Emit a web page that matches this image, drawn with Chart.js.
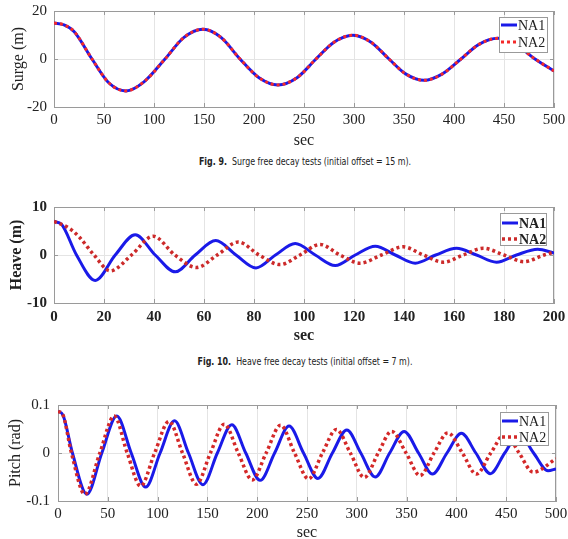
<!DOCTYPE html>
<html lang="en">
<head>
<meta charset="UTF-8">
<title>Free decay tests</title>
<script src="https://cdn.jsdelivr.net/npm/chart.js"></script>
<style>
    * { margin: 0; padding: 0; box-sizing: border-box; }
    body { width: 568px; height: 539px; background: #fff; position: relative; overflow: hidden; }
    .panel { position: absolute; left: 0; width: 568px; }
    .caption {
        position: absolute; left: 21px; width: 568px; text-align: center;
        font-family: 'Liberation Sans Narrow', 'DejaVu Sans Condensed', 'Liberation Sans', sans-serif;
        font-size: 10px; color: #222;
        transform: scaleX(0.88); transform-origin: center;
    }
</style>
</head>
<body>
    <div class="panel" style="top:0;height:150px"><canvas id="surgeChart" width="568" height="150"></canvas></div>
    <div class="caption" style="top:156px"><b>Fig. 9.</b>&nbsp; Surge free decay tests (initial offset = 15 m).</div>

    <div class="panel" style="top:195px;height:150px"><canvas id="heaveChart" width="568" height="150"></canvas></div>
    <div class="caption" style="top:356px"><b>Fig. 10.</b>&nbsp; Heave free decay tests (initial offset = 7 m).</div>

    <div class="panel" style="top:395px;height:144px"><canvas id="pitchChart" width="568" height="144"></canvas></div>

<script>
// Surge (both models overlap)
const surgeTime = [0, 10, 20, 38, 55, 72, 90, 111, 130, 149, 167, 186, 205, 224, 243, 262, 280, 299, 317, 335, 352, 370, 388, 407, 425, 444, 462, 481, 500];
const surgeNA1  = [15, 14.2, 11.5, 0, -10, -13.3, -9.5, 0, 9, 12.4, 9, 0, -7.8, -10.8, -7.8, 0, 7, 9.9, 7, 0, -6.3, -8.9, -6.3, 0, 6.1, 8.6, 6, 0, -5];
const surgeNA2  = [15, 14.2, 11.5, 0, -10, -13.3, -9.5, 0, 9, 12.4, 9, 0, -7.8, -10.8, -7.8, 0, 7, 9.9, 7, 0, -6.3, -8.9, -6.3, 0, 6.1, 8.6, 6, 0, -5];
const surgeXTicks = [0, 50, 100, 150, 200, 250, 300, 350, 400, 450, 500];
const surgeYTicks = [-20, 0, 20];

// Heave
const heaveTimeNA1 = [0, 3, 9, 16.5, 24.5, 32.5, 40.5, 48.5, 56.5, 64.7, 72.8, 80.8, 88.6, 96.5, 104.5, 112.5, 120.5, 128.5, 136.5, 144.5, 152.7, 161, 169, 177, 185, 193.5, 200];
const heaveNA1     = [7, 6.4, 0, -5.3, 0, 4.2, 0, -3.5, 0, 3.0, 0, -2.7, 0, 2.4, 0, -2.2, 0, 1.8, 0, -1.7, 0, 1.4, 0, -1.5, 0, 1.2, 0.4];
const heaveTimeNA2 = [0, 6, 10, 16, 22.5, 31, 39.7, 48.3, 57, 65.3, 73.7, 82, 90.4, 98.4, 106.4, 114.4, 122.4, 131, 139.7, 147.7, 155.7, 163.7, 171.7, 180, 188, 196, 200];
const heaveNA2     = [7, 5.6, 3.8, 0, -3.3, 0, 3.9, 0, -2.6, 0, 2.7, 0, -2.0, 0, 2.2, 0, -1.7, 0, 1.7, 0, -1.5, 0, 1.4, 0, -1.4, 0, 0.6];
const heaveXTicks = [0, 20, 40, 60, 80, 100, 120, 140, 160, 180, 200];
const heaveYTicks = [-10, 0, 10];

// Pitch
const pitchTimeNA1 = [0, 5, 14.5, 29, 44, 59, 73.5, 88, 102.5, 117, 131, 145.5, 160, 174.5, 188.5, 203, 217.5, 232, 246.5, 261, 275.5, 290, 304, 318.5, 333, 347.5, 362, 376, 390.5, 405, 419.5, 434, 448.5, 463, 477.5, 492, 500];
const pitchNA1     = [0.087, 0.079, 0, -0.086, 0, 0.077, 0, -0.071, 0, 0.067, 0, -0.066, 0, 0.059, 0, -0.057, 0, 0.056, 0, -0.053, 0, 0.048, 0, -0.05, 0, 0.045, 0, -0.044, 0, 0.041, 0, -0.043, 0, 0.04, 0, -0.037, -0.033];
const pitchTimeNA2 = [0, 5, 13.5, 27, 42, 56.5, 69.5, 83, 97, 111.5, 125, 139, 153, 167, 181, 195, 209, 223.5, 237.5, 251.5, 265.5, 279.5, 293.5, 307.5, 321.5, 335, 349.5, 363.5, 377.5, 391.5, 406, 420, 434.5, 449, 463, 477, 500];
const pitchNA2     = [0.087, 0.079, 0, -0.086, 0, 0.077, 0, -0.069, 0, 0.066, 0, -0.065, 0, 0.06, 0, -0.056, 0, 0.058, 0, -0.054, 0, 0.049, 0, -0.051, 0, 0.045, 0, -0.047, 0, 0.042, 0, -0.044, 0, 0.04, 0, -0.04, -0.012];
const pitchXTicks = [0, 50, 100, 150, 200, 250, 300, 350, 400, 450, 500];
const pitchYTicks = [-0.1, 0, 0.1];

const BLUE = '#1a1ae8';
const GRID = '#e4e4e4';
const FRAME = '#9a9a9a';
const TEXT = '#222';

function toPoints(xs, ys) {
    return xs.map((x, i) => ({ x: x, y: ys[i] }));
}

// MATLAB-like box with inward tick marks
const framePlugin = {
    id: 'frame',
    beforeDatasetsDraw(chart) {
        const { ctx, chartArea: a, scales } = chart;
        ctx.save();
        ctx.strokeStyle = FRAME;
        ctx.lineWidth = 1;
        ctx.strokeRect(Math.round(a.left) + 0.5, Math.round(a.top) + 0.5, Math.round(a.width) - 1, Math.round(a.height));
        ctx.beginPath();
        scales.x.ticks.forEach(t => {
            const px = Math.round(scales.x.getPixelForValue(t.value)) + 0.5;
            ctx.moveTo(px, a.top); ctx.lineTo(px, a.top + 4);
            ctx.moveTo(px, a.bottom); ctx.lineTo(px, a.bottom - 4);
        });
        scales.y.ticks.forEach(t => {
            const py = Math.round(scales.y.getPixelForValue(t.value)) + 0.5;
            ctx.moveTo(a.left, py); ctx.lineTo(a.left + 4, py);
            ctx.moveTo(a.right, py); ctx.lineTo(a.right - 4, py);
        });
        ctx.stroke();
        ctx.restore();
    }
};

// boxed legend drawn inside the top-right corner
const boxLegend = {
    id: 'boxLegend',
    afterDraw(chart, args, opts) {
        const { ctx, chartArea: a } = chart;
        const x = a.right - opts.dx, y = a.top + opts.dy;
        ctx.save();
        ctx.fillStyle = '#fff';
        ctx.fillRect(x, y, opts.w, opts.h);
        ctx.strokeStyle = FRAME;
        ctx.lineWidth = 1;
        ctx.strokeRect(Math.round(x) + 0.5, Math.round(y) + 0.5, opts.w, opts.h);
        ctx.font = opts.font;
        ctx.textBaseline = 'middle';
        ctx.fillStyle = TEXT;
        chart.data.datasets.forEach((ds, i) => {
            const ry = y + opts.rows[i];
            ctx.beginPath();
            ctx.strokeStyle = ds.borderColor;
            ctx.lineWidth = ds.borderWidth;
            ctx.setLineDash(ds.borderDash || []);
            ctx.moveTo(x + 2, ry);
            ctx.lineTo(x + 18, ry);
            ctx.stroke();
            ctx.setLineDash([]);
            ctx.fillText(ds.label, x + 19, ry + 1);
        });
        ctx.restore();
    }
};

function decayChart(id, c) {
    const tickFont = { family: 'Liberation Serif', size: 15, weight: c.bold ? 'bold' : 'normal' };
    const titleFont = { family: 'Liberation Serif', size: 16, weight: c.bold ? 'bold' : 'normal' };
    return new Chart(document.getElementById(id), {
        type: 'line',
        data: {
            datasets: [
                // NA1 drawn first, NA2 dotted on top
                { label: 'NA1', data: toPoints(c.t1, c.v1), borderColor: BLUE, borderWidth: 3, order: 2 },
                { label: 'NA2', data: toPoints(c.t2, c.v2), borderColor: c.red, borderWidth: c.redWidth, borderDash: c.dash, order: 1 }
            ]
        },
        options: {
            responsive: false,
            animation: false,
            layout: { padding: { top: c.top, right: c.right, left: 0, bottom: 0 } },
            elements: {
                point: { radius: 0 },
                line: { cubicInterpolationMode: 'monotone', fill: false }
            },
            plugins: {
                legend: { display: false },
                tooltip: { enabled: false },
                boxLegend: c.legend
            },
            scales: {
                x: {
                    type: 'linear', min: c.xTicks[0], max: c.xTicks[c.xTicks.length - 1],
                    afterBuildTicks: s => { s.ticks = c.xTicks.map(v => ({ value: v })); },
                    afterFit: s => { s.height = c.xAxisH; s.paddingLeft = 0; s.paddingRight = 0; },
                    ticks: { font: tickFont, color: TEXT, padding: c.xPad, maxRotation: 0, autoSkip: false },
                    grid: { color: GRID, drawTicks: false },
                    border: { color: FRAME },
                    title: { display: true, text: 'sec', font: titleFont, color: TEXT, padding: { top: 0, bottom: c.secPad } }
                },
                y: {
                    type: 'linear', min: c.yTicks[0], max: c.yTicks[c.yTicks.length - 1],
                    afterBuildTicks: s => { s.ticks = c.yTicks.map(v => ({ value: v })); },
                    afterFit: s => { s.width = c.left; s.paddingTop = 0; s.paddingBottom = 0; },
                    ticks: { font: tickFont, color: TEXT, padding: c.yPad, callback: v => String(v) },
                    grid: { color: GRID, drawTicks: false },
                    border: { color: FRAME },
                    title: { display: true, text: c.yTitle, font: titleFont, color: TEXT, padding: { top: c.yTitlePad, bottom: 0 } }
                }
            }
        },
        plugins: [framePlugin, boxLegend]
    });
}

decayChart('surgeChart', {
    t1: surgeTime, v1: surgeNA1, t2: surgeTime, v2: surgeNA2,
    xTicks: surgeXTicks, yTicks: surgeYTicks, yTitle: 'Surge (m)',
    red: '#f42a2a', redWidth: 3, dash: [3, 3], bold: false,
    top: 11, right: 14, left: 54, xAxisH: 43, xPad: 4, yPad: 7, secPad: 0, yTitlePad: 9,
    legend: { dx: 55, dy: 6, w: 48, h: 35, rows: [8, 25], font: '14px "Liberation Serif"' }
});

decayChart('heaveChart', {
    t1: heaveTimeNA1, v1: heaveNA1, t2: heaveTimeNA2, v2: heaveNA2,
    xTicks: heaveXTicks, yTicks: heaveYTicks, yTitle: 'Heave (m)',
    red: '#cc2a2a', redWidth: 3.5, dash: [3, 3], bold: true,
    top: 12, right: 14, left: 54, xAxisH: 42, xPad: 5, yPad: 7, secPad: 0, yTitlePad: 7,
    legend: { dx: 54, dy: 6, w: 46, h: 32, rows: [10, 26], font: 'bold 14px "Liberation Serif"' }
});

decayChart('pitchChart', {
    t1: pitchTimeNA1, v1: pitchNA1, t2: pitchTimeNA2, v2: pitchNA2,
    xTicks: pitchXTicks, yTicks: pitchYTicks, yTitle: 'Pitch (rad)',
    red: '#d42828', redWidth: 3.5, dash: [3, 3], bold: false,
    top: 10, right: 12, left: 58, xAxisH: 38, xPad: 4, yPad: 8, secPad: -3, yTitlePad: 6,
    legend: { dx: 56, dy: 7, w: 48, h: 33, rows: [9, 25], font: '14px "Liberation Serif"' }
});
</script>
</body>
</html>
